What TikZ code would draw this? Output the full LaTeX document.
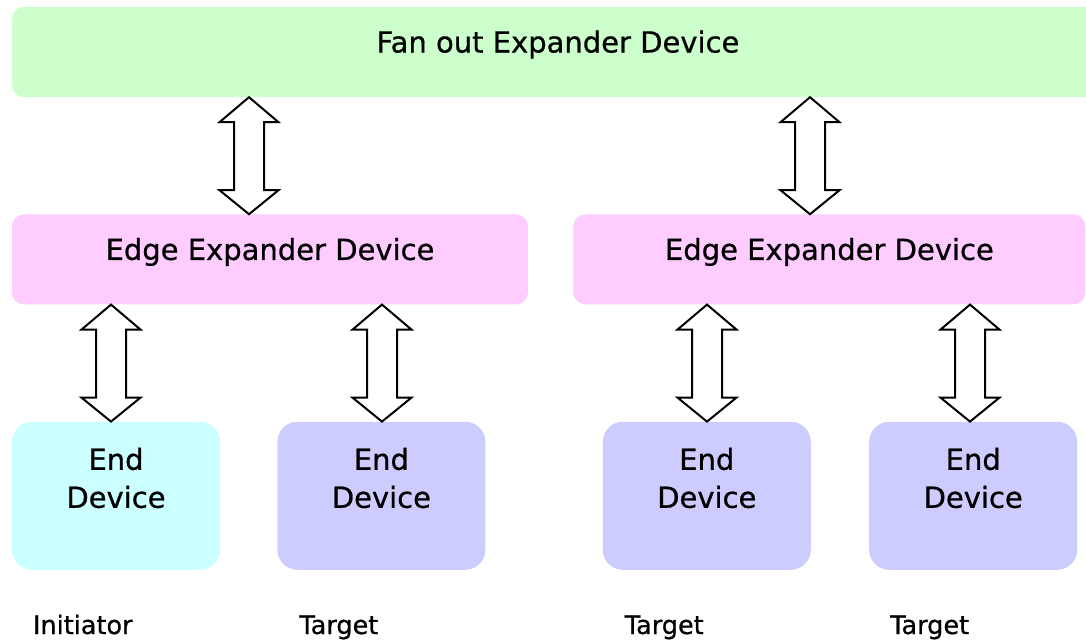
\documentclass[tikz,border=0pt]{standalone}
\usepackage{fontspec}
\setmainfont[FakeBold=0.7,AutoFakeBold=0.7]{DejaVu Sans}
\usetikzlibrary{positioning, calc}

\definecolor{fangreen}{HTML}{CCFFCC}
\definecolor{edgepink}{HTML}{FFCCFF}
\definecolor{initcyan}{HTML}{CCFFFF}
\definecolor{tgtblue}{HTML}{CCCCFF}

% hollow two-headed arrow at x=#1 from node #2 down to node #3
\newcommand{\dblarrow}[3]{%
  \draw[dbl] let \p0=(#1,0), \p1=(#2.south), \p2=(#3.north) in
    (\x0,\y1) -- (\x0+29.5pt,\y1-25pt) -- (\x0+15pt,\y1-25pt)
    -- (\x0+15pt,\y2+24pt) -- (\x0+29.5pt,\y2+24pt) -- (\x0,\y2)
    -- (\x0-29.5pt,\y2+24pt) -- (\x0-15pt,\y2+24pt)
    -- (\x0-15pt,\y1-25pt) -- (\x0-29.5pt,\y1-25pt) -- cycle;}

\begin{document}
\begin{tikzpicture}[
      x=1pt, y=-1pt,
      box/.style={rounded corners=12pt, inner sep=0pt, text height=22pt, text depth=21pt,
        font=\fontsize{29}{38}\selectfont\bfseries},
      fanbox/.style={box, fill=fangreen, minimum width=1092pt, minimum height=90pt},
      edgebox/.style={box, fill=edgepink, minimum height=90pt},
      endbox/.style={box, rounded corners=20pt, minimum width=208pt, minimum height=148pt,
        align=center, text height=24pt, text depth=0pt},
      role/.style={anchor=base west, inner sep=0pt, font=\fontsize{25.5}{30}\selectfont\bfseries},
      dbl/.style={draw=black, fill=white, line width=2pt, line join=miter}
    ]
    \useasboundingbox (0,0) rectangle (1086,642);
    \clip (0,0) rectangle (1086,642);
    \node[fanbox] (fan) at (558,52) {Fan out Expander Device};
    \node[edgebox, minimum width=516pt, below right=117pt and 0pt of fan.south west] (edgeL) {Edge Expander Device};
    \node[edgebox, minimum width=512pt, right=45pt of edgeL] (edgeR) {Edge Expander Device};
    \node[endbox, fill=initcyan, below right=117pt and 0pt of edgeL.south west] (endA) {End\\Device};
    \node[endbox, fill=tgtblue, right=57pt of endA] (endB) {End\\Device};
    \node[endbox, fill=tgtblue, right=117pt of endB] (endC) {End\\Device};
    \node[endbox, fill=tgtblue, right=58pt of endC] (endD) {End\\Device};
    \node[role] (roleA) at ($(endA.south west)+(21,64)$) {Initiator};
    \node[role] (roleB) at ($(endB.south west)+(22,64)$) {Target};
    \node[role] (roleC) at ($(endC.south west)+(22,64)$) {Target};
    \node[role] (roleD) at ($(endD.south west)+(21,64)$) {Target};
    \dblarrow{249}{fan}{edgeL}
    \dblarrow{810}{fan}{edgeR}
    \dblarrow{111}{edgeL}{endA}
    \dblarrow{382}{edgeL}{endB}
    \dblarrow{707}{edgeR}{endC}
    \dblarrow{970}{edgeR}{endD}
  \end{tikzpicture}
\end{document}
